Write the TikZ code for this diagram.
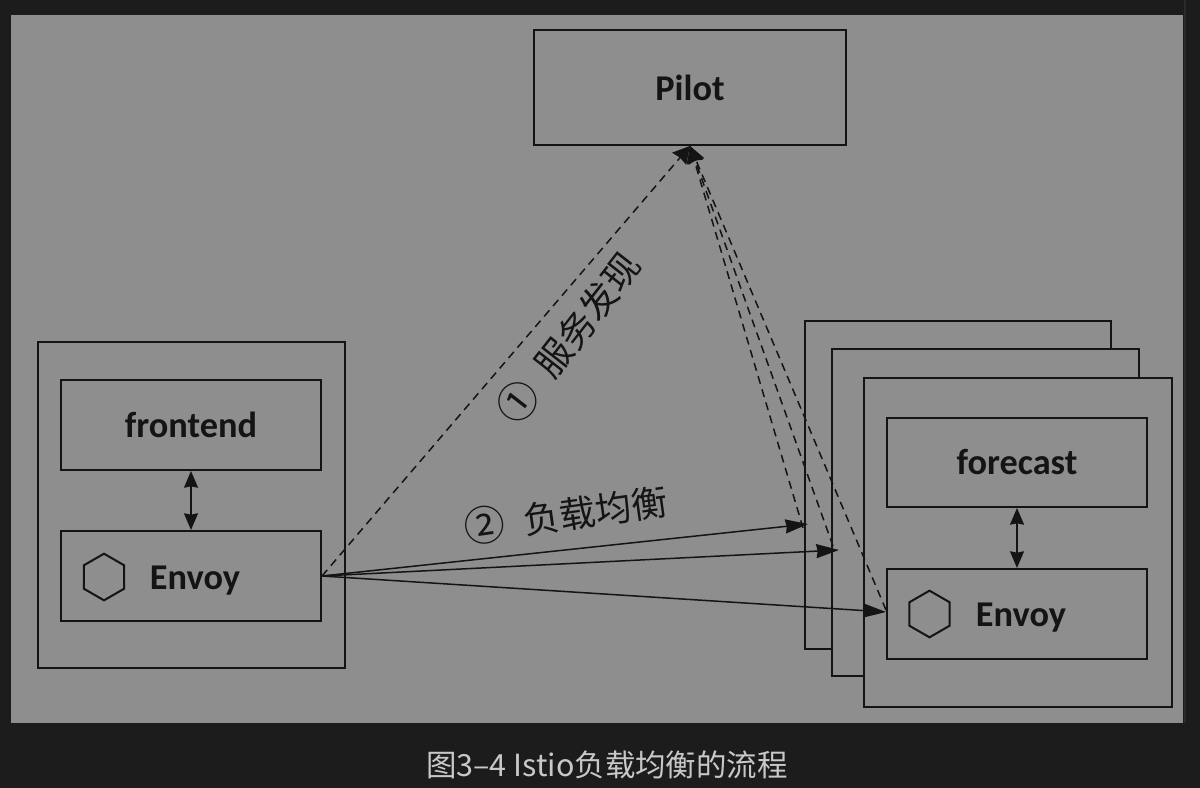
\documentclass[tikz,border=0pt]{standalone}
\usepackage{fontspec}
\setmainfont{Carlito}
\newfontfamily\cjk{Noto Sans CJK SC}
\usetikzlibrary{shapes,arrows.meta}
\definecolor{pagebg}{HTML}{1C1C1C}
\definecolor{panelbg}{HTML}{8E8E8E}
\definecolor{inkc}{HTML}{141414}
\definecolor{capc}{HTML}{C8C8C8}
\begin{document}
\begin{tikzpicture}[x=0.03cm,y=-0.03cm]
\tikzstyle{box}=[draw=inkc,fill=panelbg,line width=0.06cm,inner sep=0,text=inkc,font=\fontsize{31}{31}\selectfont\bfseries]
\tikzstyle{hexa}=[draw=inkc,line width=0.06cm,regular polygon,regular polygon sides=6,shape border rotate=30,minimum size=1.4cm,inner sep=0]
\tikzstyle{textlabel}=[text=inkc,inner sep=0,font=\fontsize{31}{31}\selectfont\cjk]
\tikzstyle{numlabel}=[text=inkc,inner sep=0,font=\fontsize{35}{35}\selectfont\cjk]
\tikzstyle{dashline}=[draw=inkc,line width=0.045cm,dash pattern=on 0.24cm off 0.17cm]
\tikzstyle{solidline}=[draw=inkc,line width=0.045cm]
\fill[pagebg] (0,0) rectangle (1200,788);
\fill[panelbg] (11,15) rectangle (1183,723);
\fill[black!70!panelbg] (1184,0) rectangle (1186,723);
\foreach \n/\x/\y/\w/\h/\t in {pilot/690/87.5/312/115/Pilot,
  leftbox/191.5/505/307/326/,frontend/191/425/260/90/frontend,envoyl/191/576/260/90/,
  backa/958/485/306/328/,backb/985.5/512.5/307/327/,rightbox/1018/542.5/308/329/,
  forecast/1017/462.5/260/89/forecast,envoyr/1017/614/260/90/}{
\node[box,minimum width=\w*0.03cm,minimum height=\h*0.03cm] (\n) at (\x,\y) {\raisebox{-0.07cm}{\t}};
};
\node[hexa] (hexl) at (104,577) {};
\node[hexa] (hexr) at (929.5,614) {};
\node[box,draw=none,fill=none] (envoytl) at (195,581) {Envoy};
\node[box,draw=none,fill=none] (envoytr) at (1021,618) {Envoy};
\draw[solidline,{Stealth[length=0.5cm,width=0.42cm,inset=0.04cm]}-{Stealth[length=0.5cm,width=0.42cm,inset=0.04cm]}] (frontend.south) -- (envoyl.north);
\draw[solidline,{Stealth[length=0.5cm,width=0.42cm,inset=0.04cm]}-{Stealth[length=0.5cm,width=0.42cm,inset=0.04cm]}] (forecast.south) -- (envoyr.north);
\coordinate (pilotin) at (690,146);
\foreach \y/\dx/\dy/\tx/\ty in {a/803/528/808/524,b/833/546/839/550,c/886/610/886/612}{
\coordinate (start\y) at (\dx,\dy);
\coordinate (tip\y) at (\tx,\ty);
\draw[dashline,-{Stealth[length=0.5cm,width=0.5cm,inset=0.04cm]}] (start\y) -- (pilotin);
\draw[solidline,-{Stealth[length=0.68cm,width=0.42cm,inset=0.04cm]}] (envoyl.east) -- (tip\y);
};
\draw[dashline,-{Stealth[length=0.5cm,width=0.55cm,inset=0.04cm]}] (envoyl.east) -- (pilotin);
\node[numlabel,rotate=52] (numa) at (518,402) {①};
\node[textlabel,rotate=52] (discover) at (587.5,315) {服务发现};
\node[numlabel,rotate=8] (numb) at (485,525) {②};
\node[textlabel,rotate=8] (balance) at (596,510.5) {负载均衡};
\node[text=capc,inner sep=0,font=\fontsize{26}{26}\selectfont\cjk] (caption) at (607,765) {图3–4 Istio负载均衡的流程};
\end{tikzpicture}
\end{document}
